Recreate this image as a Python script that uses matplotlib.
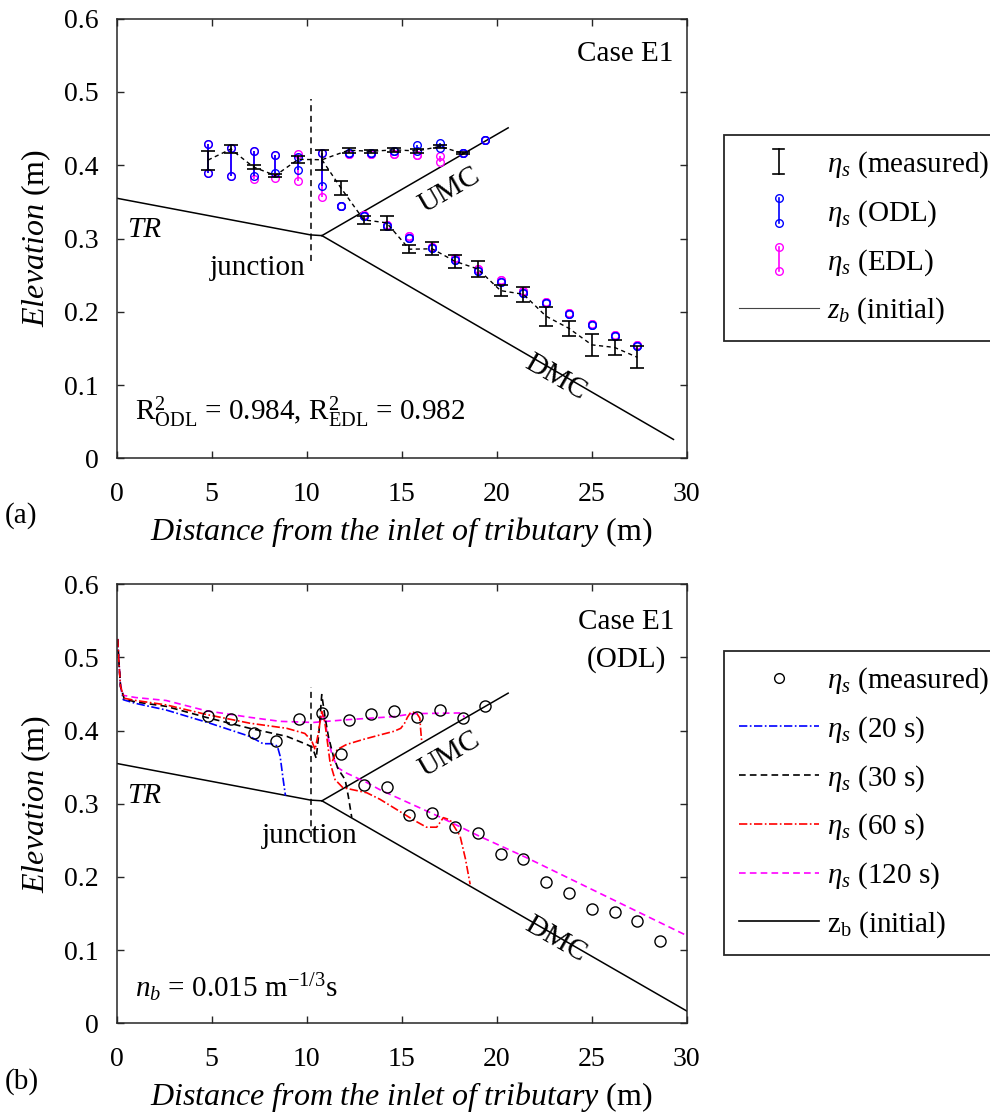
import numpy as np
import matplotlib
matplotlib.use("Agg")
import matplotlib.pyplot as plt
from matplotlib.lines import Line2D
from matplotlib.legend_handler import HandlerBase

plt.rcParams['font.family'] = ['Liberation Serif', 'DejaVu Serif']
plt.rcParams['font.size'] = 21
plt.rcParams['mathtext.fontset'] = 'custom'
plt.rcParams['mathtext.rm'] = 'Liberation Serif'
plt.rcParams['mathtext.it'] = 'Liberation Serif:italic'

# ---- initial bed (z_b) ----
tr_bed_x = [0.0, 10.2, 10.8]
tr_bed_y = [0.355, 0.305, 0.304]
umc_bed_x = [10.8, 20.6]
umc_bed_y = [0.304, 0.451]
dmc_bed_x_a = [10.8, 29.3]
dmc_bed_y_a = [0.304, 0.026]
dmc_bed_x_b = [10.8, 30.0]
dmc_bed_y_b = [0.304, 0.017]

# ---- panel (a): tributary + junction ----
a_x_tr = [4.8, 6.0, 7.2, 8.35, 9.55, 10.8]
meas_lo_tr = [0.394, 0.417, 0.395, 0.384, 0.403, 0.394]
meas_hi_tr = [0.420, 0.427, 0.400, 0.388, 0.413, 0.421]
odl_lo_tr = [0.389, 0.386, 0.386, 0.389, 0.394, 0.372]
odl_hi_tr = [0.429, 0.424, 0.420, 0.414, 0.411, 0.417]
edl_lo_tr = [0.389, 0.386, 0.381, 0.382, 0.379, 0.356]
edl_hi_tr = [0.429, 0.424, 0.420, 0.414, 0.416, 0.417]

# upstream main channel
a_x_umc = [12.2, 13.4, 14.6, 15.8, 17.0, 18.2, 19.4]
meas_lo_umc = [0.417, 0.417, 0.418, 0.417, 0.423, 0.415, np.nan]
meas_hi_umc = [0.424, 0.421, 0.424, 0.422, 0.428, 0.418, np.nan]
odl_lo_umc = [0.417, 0.417, 0.419, 0.420, 0.423, 0.417, 0.435]
odl_hi_umc = [0.417, 0.417, 0.419, 0.428, 0.430, 0.417, 0.435]
edl_lo_umc = [0.416, 0.416, 0.415, 0.414, 0.405, 0.417, 0.435]
edl_hi_umc = [0.416, 0.416, 0.415, 0.414, 0.412, 0.417, 0.435]

# downstream main channel
a_x_dmc = [11.8, 13.0, 14.2, 15.4, 16.6, 17.8, 19.0, 20.2, 21.4, 22.6, 23.8, 25.0, 26.2, 27.4]
meas_lo_dmc = [0.360, 0.320, 0.312, 0.280, 0.277, 0.260, 0.248, 0.222, 0.214, 0.181, 0.167, 0.140, 0.141, 0.123]
meas_hi_dmc = [0.378, 0.331, 0.331, 0.291, 0.295, 0.278, 0.269, 0.236, 0.234, 0.207, 0.188, 0.170, 0.162, 0.153]
odl_dmc = [0.345, 0.331, 0.317, 0.301, 0.287, 0.271, 0.256, 0.241, 0.226, 0.212, 0.197, 0.182, 0.167, 0.153]
edl_dmc = [0.345, 0.332, 0.318, 0.303, 0.289, 0.273, 0.258, 0.243, 0.229, 0.214, 0.199, 0.184, 0.169, 0.155]

# ---- panel (b): measured and simulated water surface ----
b_meas_x = [4.8, 6.0, 7.2, 8.4, 9.6, 10.8, 12.2, 13.4, 14.6, 15.8, 17.0, 18.2, 19.4,
            11.8, 13.0, 14.2, 15.4, 16.6, 17.8, 19.0, 20.2, 21.4, 22.6, 23.8, 25.0, 26.2, 27.4, 28.6]
b_meas_y = [0.420, 0.416, 0.396, 0.385, 0.416, 0.424, 0.415, 0.423, 0.426, 0.419, 0.428, 0.417, 0.434,
            0.368, 0.326, 0.323, 0.284, 0.287, 0.268, 0.260, 0.231, 0.224, 0.193, 0.178, 0.156, 0.152, 0.140, 0.112]

s20_x = [0.05, 0.1, 0.2, 0.35, 1.0, 2.6, 4.9, 7.0, 7.7, 8.1, 8.45, 8.6, 8.75, 8.88]
s20_y = [0.525, 0.50, 0.46, 0.442, 0.437, 0.428, 0.410, 0.392, 0.382, 0.382, 0.379, 0.365, 0.335, 0.311]

s30_x = [0.05, 0.1, 0.2, 0.4, 1.0, 2.6, 4.7, 7.0, 8.95, 10.0, 10.3, 10.5, 10.65, 10.79,
         10.96, 11.14, 11.4, 11.66, 12.02, 12.19, 12.37]
s30_y = [0.525, 0.50, 0.46, 0.443, 0.439, 0.433, 0.418, 0.403, 0.392, 0.381, 0.377, 0.362, 0.40, 0.449,
         0.419, 0.392, 0.365, 0.347, 0.333, 0.310, 0.281]

s60_x = [0.05, 0.1, 0.2, 0.4, 1.0, 2.6, 4.7, 7.0, 8.95, 9.9, 10.26, 10.44, 10.6, 10.79, 10.95,
         11.05, 11.23, 11.49, 11.9, 12.63, 13.16, 13.86, 14.74, 15.61, 16.3, 16.84, 17.19,
         17.54, 18.07, 18.35, 18.6]
s60_y = [0.525, 0.50, 0.46, 0.444, 0.441, 0.435, 0.422, 0.410, 0.403, 0.396, 0.386, 0.374, 0.395, 0.426, 0.412,
         0.392, 0.356, 0.333, 0.322, 0.318, 0.315, 0.306, 0.292, 0.278, 0.268, 0.268, 0.281,
         0.278, 0.256, 0.225, 0.19]
s60_umc_x = [11.35, 11.6, 12.1, 13.0, 13.86, 14.6, 14.95, 15.15, 15.3, 15.45, 15.6, 15.8, 15.95, 16.0, 16.05]
s60_umc_y = [0.358, 0.374, 0.381, 0.388, 0.394, 0.399, 0.403, 0.410, 0.418, 0.424, 0.425, 0.423, 0.417, 0.40, 0.385]

s120_x = [0.05, 0.1, 0.2, 0.35, 1.0, 2.6, 4.7, 7.0, 8.6, 10.35, 12.1, 14.6, 15.6, 18.16, 18.3]
s120_y = [0.525, 0.50, 0.462, 0.448, 0.445, 0.441, 0.427, 0.418, 0.4125, 0.411, 0.4147, 0.419, 0.423, 0.424, 0.418]
s120_dmc_x = [10.7, 10.87, 11.05, 11.3, 11.6, 12.0, 13.16, 13.86, 17.0, 19.1, 21.6, 30.0]
s120_dmc_y = [0.412, 0.424, 0.40, 0.37, 0.35, 0.343, 0.329, 0.319, 0.282, 0.2555, 0.226, 0.12]

DASHDOT = (0, (5, 1.5, 1, 1.5))
DASHED = (0, (4, 2.5))
SPINE = '#262626'


class HandlerRange(HandlerBase):
    def __init__(self, color, ends):
        super().__init__()
        self.color = color
        self.ends = ends

    def create_artists(self, legend, orig_handle, xdescent, ydescent,
                       width, height, fontsize, trans):
        cx = -xdescent + width / 2
        y0 = -ydescent - 0.1 * height
        y1 = -ydescent + 1.1 * height
        arts = [Line2D([cx, cx], [y0, y1], color=self.color, lw=1.2, transform=trans)]
        if self.ends == 'cap':
            for y in (y0, y1):
                arts.append(Line2D([cx - 4, cx + 4], [y, y], color=self.color,
                                   lw=1.2, transform=trans))
        else:
            arts.append(Line2D([cx, cx], [y0, y1], ls='none', marker='o', ms=5.5,
                               mfc='none', mec=self.color, mew=1.0, transform=trans))
        return arts


def style_axes(ax):
    ax.set_xlim(0, 30)
    ax.set_ylim(0, 0.6)
    ax.set_xticks(np.arange(0, 31, 5))
    ax.set_yticks(np.arange(0, 0.61, 0.1))
    ax.set_yticklabels(['0', '0.1', '0.2', '0.3', '0.4', '0.5', '0.6'])
    ax.tick_params(direction='in', top=True, right=True, length=5, width=1.0,
                   color=SPINE, labelsize=20)
    ax.tick_params(axis='x', pad=17)
    ax.tick_params(axis='y', pad=13)
    for s in ax.spines.values():
        s.set_linewidth(1.1)
        s.set_color(SPINE)
    ax.set_xlabel(r'$Distance\ from\ the\ inlet\ of\ tributary$ (m)', fontsize=23, labelpad=6)
    ax.set_ylabel(r'$Elevation$ (m)', fontsize=23, labelpad=8)


fig = plt.figure(figsize=(9.9, 11.15), dpi=100)
ax1 = fig.add_axes([0.1179, 0.5888, 0.5758, 0.3945])
ax2 = fig.add_axes([0.1179, 0.0821, 0.5758, 0.3941])

# ------------------- panel (a) -------------------
ax1.plot(tr_bed_x, tr_bed_y, color='k', lw=1.1)
ax1.plot(umc_bed_x, umc_bed_y, color='k', lw=1.1)
ax1.plot(dmc_bed_x_a, dmc_bed_y_a, color='k', lw=1.1)
ax1.plot([10.2, 10.2], [0.27, 0.49], color='k', lw=1.1, ls=(0, (4, 3)))

groups = [
    (a_x_tr, edl_lo_tr, edl_hi_tr, odl_lo_tr, odl_hi_tr),
    (a_x_umc, edl_lo_umc, edl_hi_umc, odl_lo_umc, odl_hi_umc),
    (a_x_dmc, edl_dmc, edl_dmc, odl_dmc, odl_dmc),
]
for gx, elo, ehi, olo, ohi in groups:
    ax1.vlines(gx, elo, ehi, color='#ff00ff', lw=1.2)
    ax1.plot(gx, elo, 'o', ms=5.5, mfc='none', mec='#ff00ff', mew=1.0)
    ax1.plot(gx, ehi, 'o', ms=5.5, mfc='none', mec='#ff00ff', mew=1.0)
for gx, elo, ehi, olo, ohi in groups:
    ax1.vlines(gx, olo, ohi, color='#0000ff', lw=1.2)
    ax1.plot(gx, olo, 'o', ms=5.5, mfc='none', mec='#0000ff', mew=1.0)
    ax1.plot(gx, ohi, 'o', ms=5.5, mfc='none', mec='#0000ff', mew=1.0)

meas_x = a_x_tr + a_x_umc + a_x_dmc
meas_lo = np.array(meas_lo_tr + meas_lo_umc + meas_lo_dmc)
meas_hi = np.array(meas_hi_tr + meas_hi_umc + meas_hi_dmc)
meas_mid = (meas_lo + meas_hi) / 2
ax1.errorbar(meas_x, meas_mid, yerr=[meas_mid - meas_lo, meas_hi - meas_mid], fmt='none',
             ecolor='k', elinewidth=1.2, capsize=5, capthick=1.2)

mid_tr = list(meas_mid[:len(a_x_tr)])
mid_umc = list(meas_mid[len(a_x_tr):len(a_x_tr) + len(a_x_umc) - 1])
mid_dmc = list(meas_mid[len(a_x_tr) + len(a_x_umc):])
ax1.plot(a_x_tr + a_x_umc[:-1], mid_tr + mid_umc, color='k', lw=1.0, ls=(0, (3, 2.5)))
ax1.plot([a_x_tr[-1]] + a_x_dmc, [mid_tr[-1]] + mid_dmc, color='k', lw=1.0, ls=(0, (3, 2.5)))

style_axes(ax1)
ax1.text(29.3, 0.552, 'Case E1', ha='right', va='center')
ax1.text(1.45, 0.312, 'TR', style='italic', ha='center', va='center')
ax1.text(7.4, 0.26, 'junction', ha='center', va='center')
ax1.text(17.5, 0.366, 'UMC', rotation=30, ha='center', va='center')
ax1.text(23.07, 0.11, 'DMC', rotation=-30, ha='center', va='center')
ax1.text(0.96, 0.063, r'R$^2_{\mathrm{ODL}}$ = 0.984, R$^2_{\mathrm{EDL}}$ = 0.982',
         ha='left', va='center')

h_meas = Line2D([], [], color='k')
h_odl = Line2D([], [], color='b')
h_edl = Line2D([], [], color='m')
h_zb = Line2D([], [], color='#444444', lw=0.8)
leg1 = fig.legend([h_meas, h_odl, h_edl, h_zb],
                  [r'$\eta_s$ (measured)', r'$\eta_s$ (ODL)', r'$\eta_s$ (EDL)', r'$z_b$ (initial)'],
                  handler_map={h_meas: HandlerRange('k', 'cap'),
                               h_odl: HandlerRange('#0000ff', 'circle'),
                               h_edl: HandlerRange('#ff00ff', 'circle')},
                  loc='upper left', bbox_to_anchor=(724 / 990, 1 - 135 / 1115),
                  fontsize=21, handlelength=2.75, handletextpad=0.28, labelspacing=0.62,
                  borderpad=0.5, borderaxespad=0, fancybox=False, framealpha=1,
                  edgecolor=SPINE)
leg1.get_frame().set_linewidth(1.3)

# ------------------- panel (b) -------------------
ax2.plot(tr_bed_x, tr_bed_y, color='k', lw=1.1)
ax2.plot(umc_bed_x, umc_bed_y, color='k', lw=1.1)
ax2.plot(dmc_bed_x_b, dmc_bed_y_b, color='k', lw=1.1)
ax2.plot([10.2, 10.2], [0.255, 0.46], color='k', lw=1.1, ls=(0, (4, 3)))

ax2.plot(s120_x, s120_y, color='#ff00ff', lw=1.2, ls=DASHED)
ax2.plot(s120_dmc_x, s120_dmc_y, color='#ff00ff', lw=1.2, ls=DASHED)
ax2.plot(s20_x, s20_y, color='#0000ff', lw=1.2, ls=DASHDOT)
ax2.plot(s30_x, s30_y, color='k', lw=1.2, ls=DASHED)
ax2.plot(s60_x, s60_y, color='#ff0000', lw=1.2, ls=DASHDOT)
ax2.plot(s60_umc_x, s60_umc_y, color='#ff0000', lw=1.2, ls=DASHDOT)
ax2.plot(b_meas_x, b_meas_y, 'o', ms=8, mfc='none', mec='k', mew=1.0)

style_axes(ax2)
ax2.text(26.8, 0.548, 'Case E1', ha='center', va='center')
ax2.text(26.8, 0.497, '(ODL)', ha='center', va='center')
ax2.text(1.45, 0.311, 'TR', style='italic', ha='center', va='center')
ax2.text(10.15, 0.256, 'junction', ha='center', va='center')
ax2.text(17.54, 0.367, 'UMC', rotation=30, ha='center', va='center')
ax2.text(23.07, 0.115, 'DMC', rotation=-30, ha='center', va='center')
ax2.text(0.96, 0.049, r'$n_b$ = 0.015 m$^{-1/3}$s', ha='left', va='center')

hb = [Line2D([], [], ls='none', marker='o', ms=7, mfc='none', mec='k', mew=1.0),
      Line2D([], [], color='#0000ff', lw=1.2, ls=DASHDOT),
      Line2D([], [], color='k', lw=1.2, ls=DASHED),
      Line2D([], [], color='#ff0000', lw=1.2, ls=DASHDOT),
      Line2D([], [], color='#ff00ff', lw=1.2, ls=DASHED),
      Line2D([], [], color='k', lw=1.2)]
lb = [r'$\eta_s$ (measured)', r'$\eta_s$ (20 s)', r'$\eta_s$ (30 s)', r'$\eta_s$ (60 s)',
      r'$\eta_s$ (120 s)', r'z$_\mathrm{b}$ (initial)']
leg2 = fig.legend(hb, lb, loc='upper left', bbox_to_anchor=(724 / 990, 1 - 651 / 1115),
                  fontsize=21, handlelength=2.75, handletextpad=0.28, labelspacing=0.62,
                  borderpad=0.5, borderaxespad=0, fancybox=False, framealpha=1,
                  edgecolor=SPINE, numpoints=1)
leg2.get_frame().set_linewidth(1.3)

fig.text(0.005, 1 - 516 / 1115, '(a)', ha='left', va='center')
fig.text(0.005, 1 - 1082 / 1115, '(b)', ha='left', va='center')

fig.savefig('out.png', dpi=100)
